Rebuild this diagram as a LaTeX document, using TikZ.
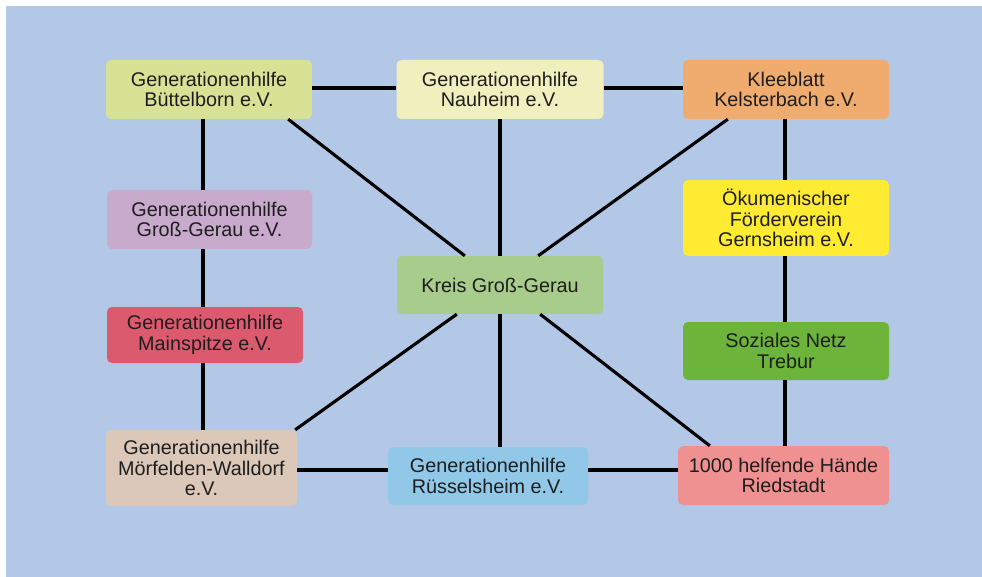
\documentclass[tikz,border=0pt]{standalone}
\usepackage{fontspec}
\setmainfont{Liberation Sans}
\usetikzlibrary{calc}
\definecolor{bgblue}{RGB}{179,199,230}
\definecolor{cBue}{RGB}{216,226,148}
\definecolor{cNau}{RGB}{240,240,190}
\definecolor{cKel}{RGB}{240,172,110}
\definecolor{cGG}{RGB}{200,170,205}
\definecolor{cMai}{RGB}{220,90,110}
\definecolor{cMor}{RGB}{220,200,185}
\definecolor{cRus}{RGB}{145,200,232}
\definecolor{cRie}{RGB}{240,145,145}
\definecolor{cKre}{RGB}{168,204,140}
\definecolor{cOek}{RGB}{255,235,50}
\definecolor{cSoz}{RGB}{108,180,58}
\definecolor{txt}{RGB}{30,30,30}
\tikzset{
  org/.style={rounded corners=5pt, inner sep=0pt, align=center, text=txt,
    font=\fontsize{19.8}{20.5}\selectfont},
  link/.style={line width=3.1pt, black}
}
\begin{document}
\begin{tikzpicture}[x=1pt,y=-1pt]
\useasboundingbox (0,0) rectangle (982,577);
\fill[bgblue] (6,6) rectangle (982,577);
% nodes
\node[org, fill=cBue, minimum width=206pt, minimum height=59pt] (bue) at (209,89.5) {Generationenhilfe\\Büttelborn e.V.};
\node[org, fill=cNau, minimum width=207pt, minimum height=59pt] (nau) at (500,89.5) {Generationenhilfe\\Nauheim e.V.};
\node[org, fill=cKel, minimum width=206pt, minimum height=59pt] (kel) at (786,89.5) {Kleeblatt\\Kelsterbach e.V.};
\node[org, fill=cGG, minimum width=205pt, minimum height=59pt] (gg) at (209.5,219.5) {Generationenhilfe\\Groß-Gerau e.V.};
\node[org, fill=cMai, minimum width=196pt, minimum height=56pt] (mai) at (205,335) {Generationenhilfe\\Mainspitze e.V.};
\node[org, fill=cMor, minimum width=191pt, minimum height=76pt] (mor) at (201.5,468) {Generationenhilfe\\Mörfelden-Walldorf\\e.V.};
\node[org, fill=cRus, minimum width=200pt, minimum height=58pt] (rus) at (488,476) {Generationenhilfe\\Rüsselsheim e.V.};
\node[org, fill=cRie, minimum width=211pt, minimum height=59pt] (rie) at (783.5,475.5) {1000 helfende Hände\\Riedstadt};
\node[org, fill=cKre, minimum width=206pt, minimum height=58pt] (kre) at (500,285) {Kreis Groß-Gerau};
\node[org, fill=cOek, minimum width=206pt, minimum height=76pt] (oek) at (786,218) {Ökumenischer\\Förderverein\\Gernsheim e.V.};
\node[org, fill=cSoz, minimum width=206pt, minimum height=58pt] (soz) at (786,351) {Soziales Netz\\Trebur};
% connectors
\draw[link] ([yshift=1.5pt]bue.east) -- ([yshift=1.5pt]nau.west);
\draw[link] ([yshift=1.5pt]nau.east) -- ([yshift=1.5pt]kel.west);
\draw[link] ([xshift=-6pt]bue.south) -- ([xshift=-6.5pt]gg.north);
\draw[link] ([xshift=-6.5pt]gg.south) -- ([xshift=-2pt]mai.north);
\draw[link] ([xshift=-2pt]mai.south) -- ([xshift=1.5pt]mor.north);
\draw[link] ([yshift=-2pt]mor.east) -- ([yshift=6pt]rus.west);
\draw[link] ([yshift=6pt]rus.east) -- ([yshift=5.5pt]rie.west);
\draw[link] ([xshift=-1pt]kel.south) -- ([xshift=-1pt]oek.north);
\draw[link] ([xshift=-1pt]oek.south) -- ([xshift=-1pt]soz.north);
\draw[link] ([xshift=-1pt]soz.south) -- ([xshift=1.5pt]rie.north);
\draw[link] (nau.south) -- (kre.north);
\draw[link] (kre.south) -- (kre.south |- rus.north);
\draw[link] ([xshift=-24pt]bue.south east) -- ([xshift=68pt]kre.north west);
\draw[link] ([xshift=45pt]kel.south west) -- ([xshift=-65pt]kre.north east);
\draw[link] ([xshift=-2pt]mor.north east) -- ([xshift=60pt]kre.south west);
\draw[link] ([xshift=32pt]rie.north west) -- ([xshift=-63pt]kre.south east);
\end{tikzpicture}
\end{document}
